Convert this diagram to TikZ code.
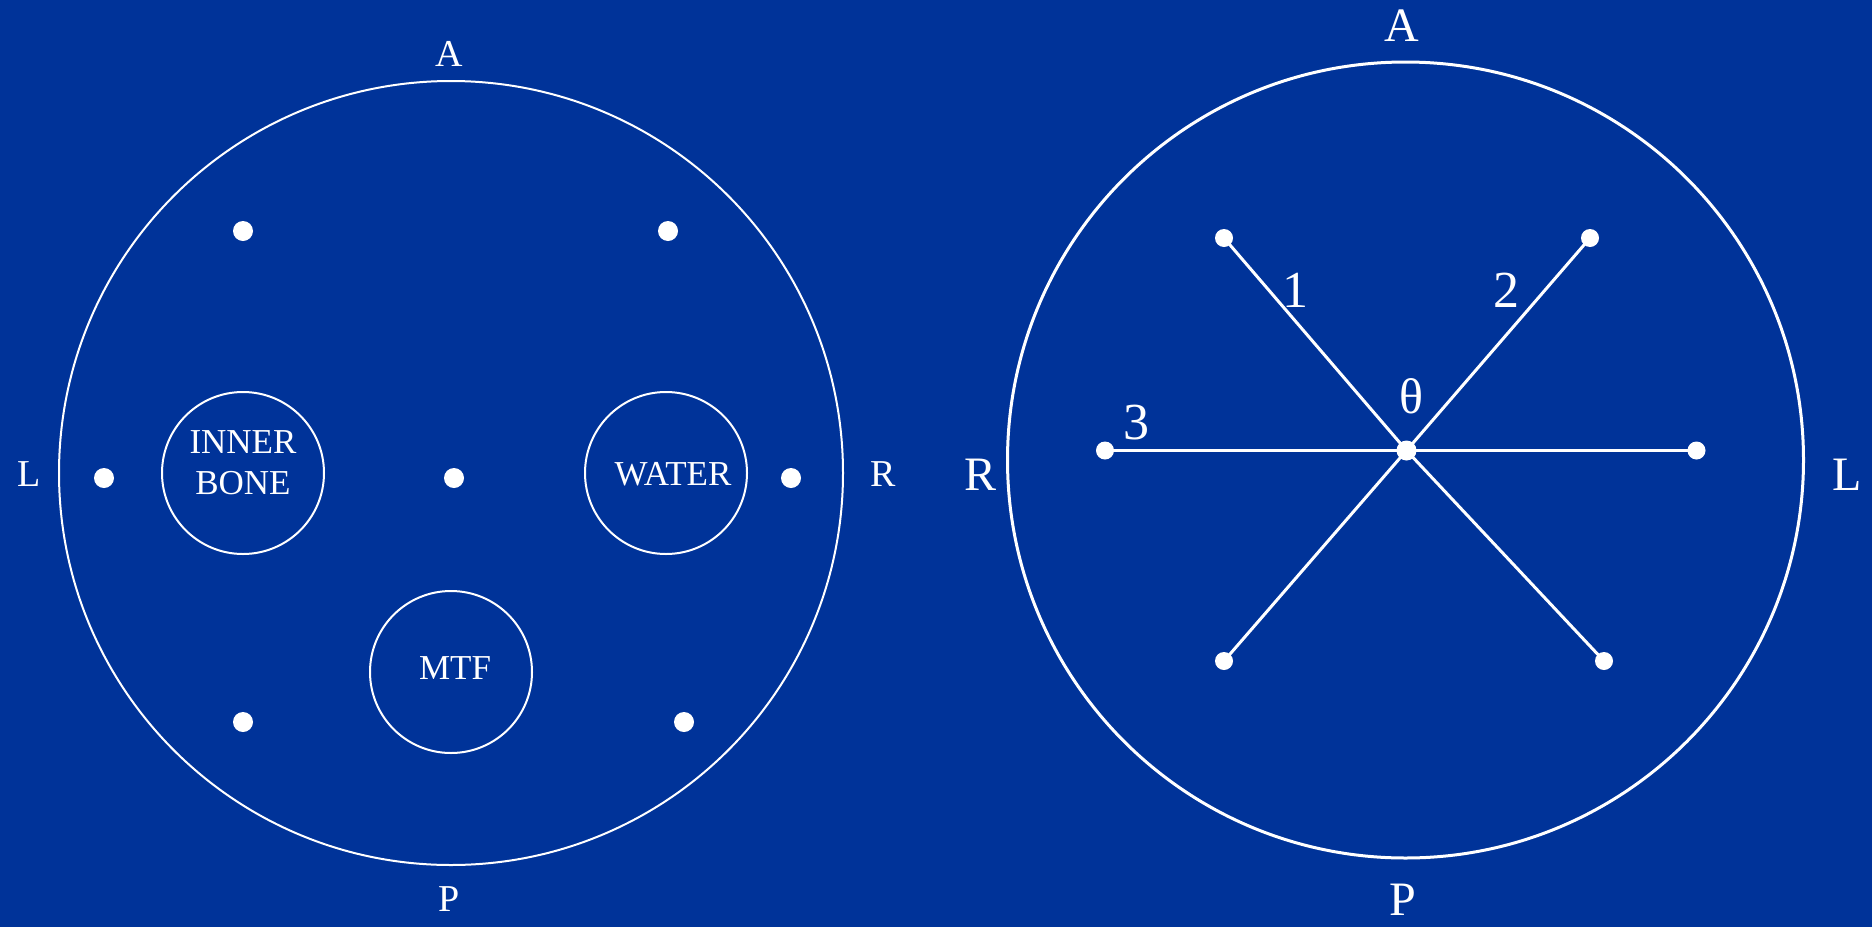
\documentclass[tikz,border=0pt]{standalone}
\usepackage{fontspec}
\setmainfont{Liberation Serif}
\definecolor{bg}{RGB}{0,51,153}
\tikzset{
  lbl/.style={text=white,inner sep=0pt,font=\fontsize{38}{44}\selectfont},
  rlbl/.style={text=white,inner sep=0pt,font=\fontsize{48}{54}\selectfont},
  inlbl/.style={text=white,inner sep=0pt,align=center,font=\fontsize{35}{41}\selectfont},
  dotl/.style={circle,fill=white,inner sep=0pt,minimum size=20pt},
  dotr/.style={circle,fill=white,inner sep=0pt,minimum size=18pt},
  ring/.style={draw=white,line width=2pt},
  ray/.style={draw=white,line width=3pt}
}
\begin{document}
\begin{tikzpicture}[x=1pt,y=-1pt]
\fill[bg] (0,0) rectangle (1872,927);
\useasboundingbox (0,0) rectangle (1872,927);
% left panel
\draw[ring] (451,473) circle[radius=392];
\draw[ring] (243,473) circle[radius=81];
\draw[ring] (666,473) circle[radius=81];
\draw[ring] (451,672) circle[radius=81];
\node[inlbl] (bone) at (243,463) {INNER\\BONE};
\node[inlbl] (water) at (673,474) {WATER};
\node[inlbl] (mtf) at (455,668) {MTF};
\node[dotl] (d1) at (243,231) {};
\node[dotl] (d2) at (668,231) {};
\node[dotl] (d3) at (104,478) {};
\node[dotl] (d4) at (454,478) {};
\node[dotl] (d5) at (791,478) {};
\node[dotl] (d6) at (243,722) {};
\node[dotl] (d7) at (684,722) {};
\node[lbl] (la) at (449,54) {A};
\node[lbl] (lp) at (449,899) {P};
\node[lbl] (ll) at (29,474) {L};
\node[lbl] (lr) at (883,474) {R};
% right panel
\draw[ray] (1405.5,460) circle[radius=398];
\node[dotr,minimum size=20pt] (c) at (1406.5,450.5) {};
\node[dotr] (tl) at (1224,238) {};
\node[dotr] (tr) at (1590,238) {};
\node[dotr] (ml) at (1105,450.5) {};
\node[dotr] (mr) at (1696.5,450.5) {};
\node[dotr] (bl) at (1224,661) {};
\node[dotr] (br) at (1604,661) {};
\draw[ray] (c.center) -- (tl.center);
\draw[ray] (c.center) -- (br.center);
\draw[ray] (c.center) -- (tr.center);
\draw[ray] (c.center) -- (bl.center);
\draw[ray] (ml.center) -- (mr.center);
\node[rlbl,font=\fontsize{52}{58}\selectfont] (n1) at (1295,290.5) {1};
\node[rlbl,font=\fontsize{52}{58}\selectfont] (n2) at (1506,290.5) {2};
\node[rlbl,font=\fontsize{52}{58}\selectfont] (n3) at (1136,422.5) {3};
\node[rlbl,font=\fontsize{50}{56}\selectfont] (th) at (1411,396.5) {θ};
\node[rlbl] (ra) at (1402,25.5) {A};
\node[rlbl] (rp) at (1403,900) {P};
\node[rlbl] (rr) at (980.5,475) {R};
\node[rlbl] (rl) at (1847,475) {L};
\end{tikzpicture}
\end{document}
